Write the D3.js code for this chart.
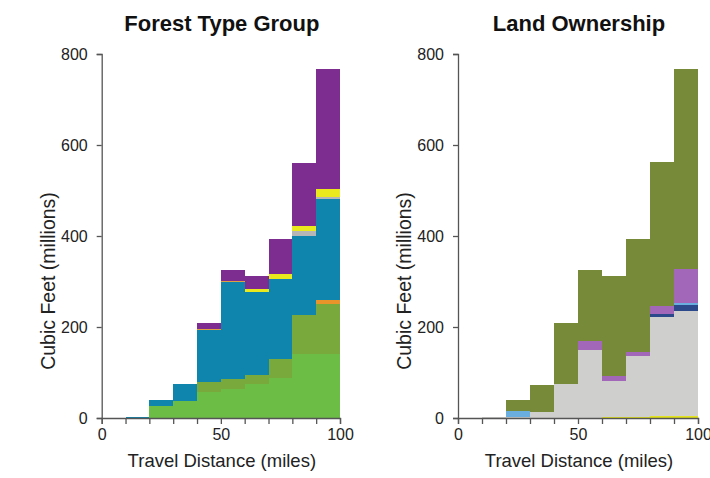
<!DOCTYPE html>
<html>
<head>
<meta charset="utf-8">
<script src="https://cdn.jsdelivr.net/npm/d3@7"></script>
<style>
  html, body { margin: 0; padding: 0; background: #fff; }
  svg { display: block; }
  text { font-family: "Liberation Sans", Arial, Helvetica, sans-serif; }
</style>
</head>
<body>
<svg id="chart" width="710" height="478"></svg>
<script>
// ---------- DATA ----------
const binStarts = [0, 10, 20, 30, 40, 50, 60, 70, 80, 90]; // 10-mile bins
const yTicks = [0, 200, 400, 600, 800];
const xTicks = [0, 10, 20, 30, 40, 50, 60, 70, 80, 90, 100];
const xTickLabels = [0, 50, 100];

// Forest Type Group (bottom -> top)
const ftKeys = ["lightGreen", "olive", "orange", "blue", "gray", "yellow", "amber", "purple"];
const ftLightGreen = [0, 0, 26, 38, 57, 64, 75, 87, 140, 140];
const ftOlive      = [0, 0, 0, 0, 22, 21, 20, 42, 86, 110];
const ftOrange     = [0, 0, 0, 0, 0, 0, 0, 0, 0, 9];
const ftBlue       = [0, 2, 14, 37, 114, 214, 183, 176, 175, 222];
const ftGray       = [0, 0, 0, 0, 0, 0, 0, 0, 11, 5];
const ftYellow     = [0, 0, 0, 0, 0, 0, 6, 11, 11, 18];
const ftAmber      = [0, 0, 0, 0, 3, 2, 0, 0, 0, 0];
const ftPurple     = [0, 0, 0, 0, 13, 25, 29, 77, 137, 263];

// Land Ownership (bottom -> top)
const loKeys = ["yellow", "gray", "darkBlue", "lightBlue", "purple", "olive"];
const loYellow    = [0, 0, 0, 0, 1, 1, 2, 2, 4, 4];
const loGray      = [0, 2, 3, 13, 74.5, 149, 79, 134, 218, 231.5];
const loDarkBlue  = [0, 0, 0, 0, 0, 0, 0, 0, 6, 12];
const loLightBlue = [0, 0, 12, 0, 0, 0, 1, 0, 0, 6];
const loPurple    = [0, 0, 0, 0, 0, 19, 11, 9, 19, 75];
const loOlive     = [0, 0, 24, 60, 133, 157, 220, 248, 315, 439];

// ---------- STYLE ----------
const ftColors = {
  lightGreen: "#6cbd46", olive: "#79a83d", orange: "#e8942a", blue: "#0f84ad",
  gray: "#b6b6b6", yellow: "#e9e91e", amber: "#dda043", purple: "#7c2d8f"
};
const loColors = {
  yellow: "#e3e31f", gray: "#cfcfce", darkBlue: "#2c4a8b", lightBlue: "#6aaee0",
  purple: "#a267b8", olive: "#768a3a"
};

function makeRows(arrays, keys) {
  return binStarts.map((b, i) => {
    const r = { x0: b };
    keys.forEach((k, j) => { r[k] = arrays[j][i]; });
    return r;
  });
}

const svg = d3.select("#chart");
const yTop = 54, yBottom = 418;

function panel(opts) {
  const x = d3.scaleLinear().domain([0, 100]).range([opts.left, opts.right]);
  const y = d3.scaleLinear().domain([0, 800]).range([yBottom, yTop]);
  const g = svg.append("g");

  const rows = makeRows(opts.arrays, opts.keys);
  const series = d3.stack().keys(opts.keys)(rows);

  g.selectAll("g.layer").data(series).join("g")
    .attr("class", "layer")
    .attr("fill", d => opts.colors[d.key])
    .selectAll("rect").data(d => d.filter(p => p[1] - p[0] > 0)).join("rect")
      .attr("x", d => x(d.data.x0))
      .attr("width", d => x(d.data.x0 + 10) - x(d.data.x0))
      .attr("y", d => y(d[1]))
      .attr("height", d => y(d[0]) - y(d[1]))
      .attr("shape-rendering", "crispEdges");

  // y axis
  const yAxis = d3.axisLeft(y).tickValues(yTicks).tickSize(5).tickPadding(9);
  const ya = g.append("g").attr("transform", `translate(${opts.left},0)`).call(yAxis);
  // x axis
  const xAxis = d3.axisBottom(x).tickValues(xTicks).tickSize(6).tickPadding(5)
    .tickFormat(d => xTickLabels.includes(d) ? d : "");
  const xa = g.append("g").attr("transform", `translate(0,${yBottom})`).call(xAxis);

  [ya, xa].forEach(a => {
    a.select(".domain").attr("stroke", "#555").attr("stroke-width", 1.3);
    a.selectAll(".tick line").attr("stroke", "#555").attr("stroke-width", 1.3);
    a.selectAll(".tick text").attr("fill", "#222").style("font-size", "16px")
      .style("font-family", '"Liberation Sans", Arial, sans-serif');
  });

  const cx = (opts.left + opts.right) / 2;
  g.append("text").attr("x", cx + 1).attr("y", 31)
    .attr("text-anchor", "middle").style("font-size", "22px").style("font-weight", "bold")
    .attr("fill", "#111").text(opts.title);
  g.append("text").attr("x", cx + 1).attr("y", 467)
    .attr("text-anchor", "middle").style("font-size", "18.5px").attr("fill", "#222")
    .text("Travel Distance (miles)");
  g.append("text")
    .attr("transform", `translate(${opts.left - 47},${281}) rotate(-90)`)
    .attr("text-anchor", "middle").style("font-size", "19.5px").attr("fill", "#222")
    .text("Cubic Feet (millions)");
}

panel({
  left: 101.7, right: 340, title: "Forest Type Group",
  keys: ftKeys, colors: ftColors,
  arrays: [ftLightGreen, ftOlive, ftOrange, ftBlue, ftGray, ftYellow, ftAmber, ftPurple]
});
panel({
  left: 458, right: 698, title: "Land Ownership",
  keys: loKeys, colors: loColors,
  arrays: [loYellow, loGray, loDarkBlue, loLightBlue, loPurple, loOlive]
});
</script>
</body>
</html>
